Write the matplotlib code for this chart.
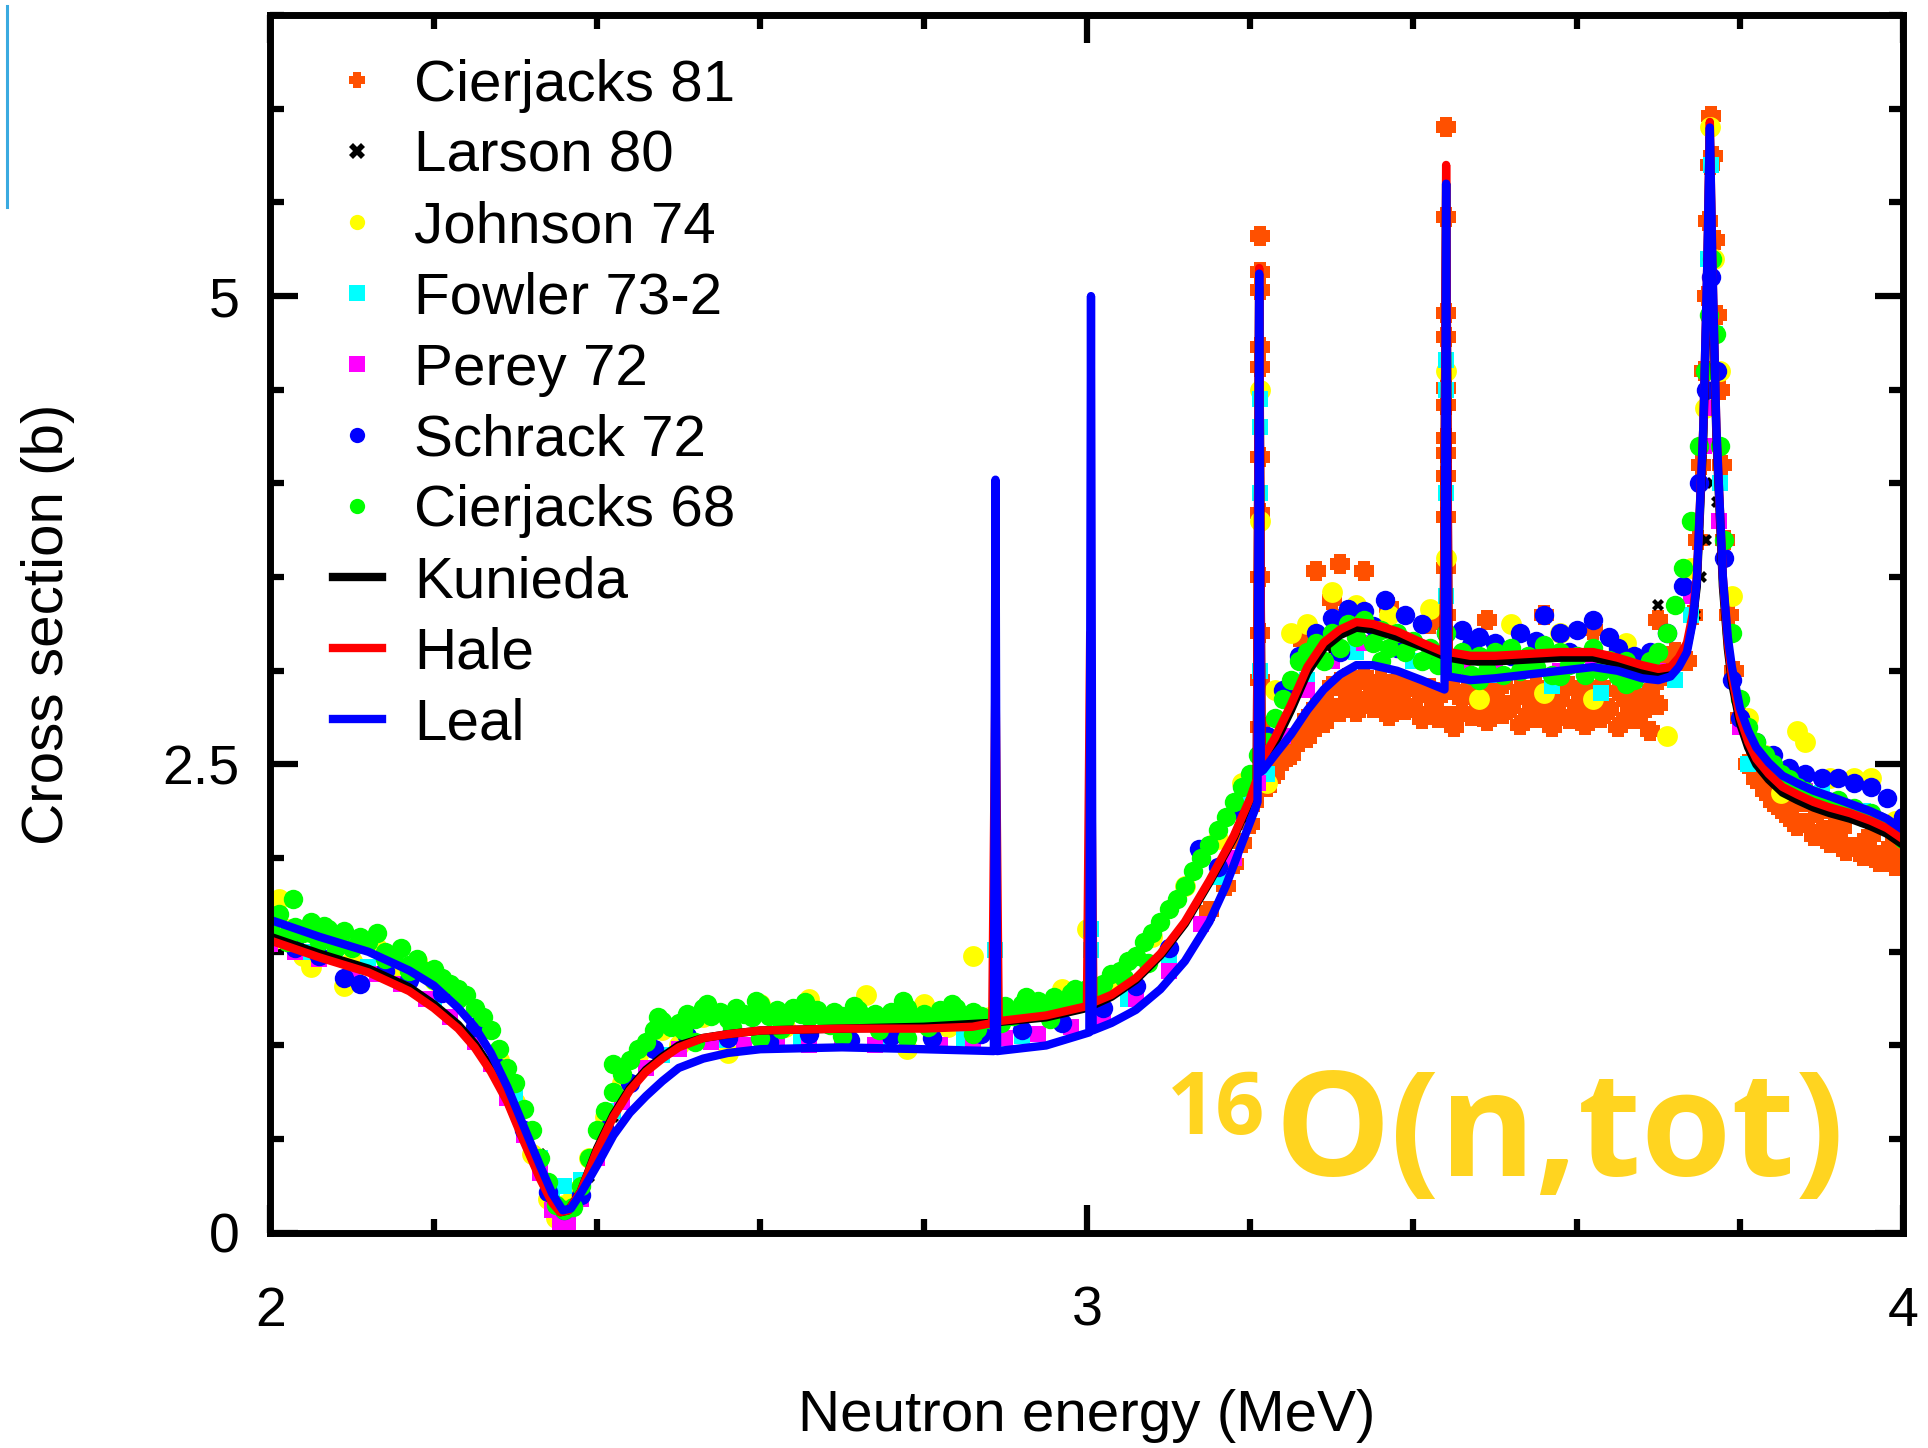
import matplotlib
matplotlib.use("Agg")
import matplotlib.pyplot as plt
from matplotlib.lines import Line2D
from matplotlib.ticker import MultipleLocator

# ---- evaluated curves (energy in MeV, cross section in b) ----
hale_e = [2.00, 2.06, 2.12, 2.17, 2.20, 2.23, 2.25, 2.27, 2.29, 2.31, 2.33, 2.345, 2.355,
          2.365, 2.38, 2.40, 2.42, 2.44, 2.46, 2.48, 2.50, 2.53, 2.56, 2.60, 2.70, 2.80,
          2.86, 2.884, 2.888, 2.892, 2.95, 3.00, 3.004, 3.008, 3.03, 3.06, 3.09, 3.12,
          3.15, 3.18, 3.20, 3.208, 3.211, 3.214, 3.23, 3.25, 3.27, 3.29, 3.31, 3.33,
          3.35, 3.38, 3.41, 3.437, 3.440, 3.443, 3.47, 3.50, 3.54, 3.58, 3.62, 3.65,
          3.68, 3.70, 3.715, 3.725, 3.735, 3.742, 3.747, 3.755, 3.760, 3.763, 3.766,
          3.771, 3.779, 3.785, 3.79, 3.80, 3.81, 3.82, 3.835, 3.852, 3.87, 3.89, 3.91,
          3.935, 3.96, 3.98, 4.00]
hale_xs = [1.56, 1.47, 1.39, 1.29, 1.20, 1.09, 0.99, 0.86, 0.70, 0.49, 0.29, 0.16, 0.11,
           0.12, 0.22, 0.44, 0.62, 0.76, 0.86, 0.93, 0.99, 1.04, 1.06, 1.08, 1.09, 1.09,
           1.10, 1.12, 3.00, 1.13, 1.16, 1.21, 3.20, 1.23, 1.27, 1.36, 1.49, 1.66,
           1.88, 2.12, 2.32, 2.42, 5.15, 2.52, 2.64, 2.82, 3.02, 3.15, 3.22, 3.26,
           3.25, 3.21, 3.15, 3.10, 5.70, 3.10, 3.08, 3.08, 3.09, 3.10, 3.10, 3.07,
           3.03, 3.01, 3.02, 3.07, 3.15, 3.30, 3.50, 4.30, 5.20, 5.93, 5.20,
           4.30, 3.50, 3.15, 2.97, 2.75, 2.62, 2.53, 2.45, 2.38, 2.34, 2.30, 2.27,
           2.24, 2.20, 2.16, 2.10]

kunieda_e = [2.00, 2.06, 2.12, 2.17, 2.20, 2.23, 2.25, 2.27, 2.29, 2.31, 2.33, 2.345, 2.355,
             2.365, 2.38, 2.40, 2.42, 2.44, 2.46, 2.48, 2.50, 2.53, 2.56, 2.60, 2.70, 2.80,
             2.88, 2.95, 3.00, 3.03, 3.06, 3.09, 3.12, 3.15, 3.18, 3.20, 3.208, 3.211,
             3.214, 3.23, 3.25, 3.27, 3.29, 3.31, 3.33, 3.35, 3.38, 3.41, 3.437, 3.440,
             3.443, 3.47, 3.50, 3.54, 3.58, 3.62, 3.65, 3.68, 3.70, 3.715, 3.725, 3.735,
             3.742, 3.747, 3.755, 3.760, 3.763, 3.766, 3.771, 3.779, 3.785, 3.79, 3.80,
             3.81, 3.82, 3.835, 3.852, 3.87, 3.89, 3.91, 3.935, 3.96, 3.98, 4.00]
kunieda_xs = [1.58, 1.49, 1.41, 1.31, 1.22, 1.11, 1.01, 0.88, 0.71, 0.50, 0.30, 0.17, 0.11,
              0.12, 0.22, 0.45, 0.63, 0.77, 0.87, 0.94, 1.00, 1.04, 1.06, 1.08, 1.09, 1.10,
              1.12, 1.15, 1.20, 1.26, 1.35, 1.48, 1.65, 1.87, 2.11, 2.31, 2.41, 5.05,
              2.50, 2.61, 2.79, 2.99, 3.12, 3.19, 3.23, 3.22, 3.18, 3.13, 3.08, 5.60,
              3.07, 3.05, 3.05, 3.06, 3.07, 3.07, 3.04, 3.00, 2.98, 2.99, 3.04, 3.12,
              3.27, 3.45, 4.25, 5.10, 5.85, 5.10, 4.25, 3.45, 3.12, 2.94, 2.72,
              2.59, 2.50, 2.42, 2.35, 2.31, 2.27, 2.24, 2.21, 2.17, 2.13, 2.07]

leal_e = [2.00, 2.06, 2.12, 2.17, 2.20, 2.23, 2.25, 2.27, 2.29, 2.31, 2.33, 2.345, 2.358,
          2.368, 2.38, 2.40, 2.42, 2.44, 2.46, 2.48, 2.50, 2.53, 2.56, 2.60, 2.70, 2.80,
          2.886, 2.888, 2.890, 2.95, 3.003, 3.005, 3.007, 3.03, 3.06, 3.09, 3.12, 3.15,
          3.17, 3.19, 3.205, 3.209, 3.211, 3.213, 3.216, 3.23, 3.25, 3.27, 3.29, 3.31,
          3.33, 3.35, 3.38, 3.41, 3.438, 3.440, 3.442, 3.47, 3.50, 3.54, 3.58, 3.62,
          3.65, 3.68, 3.70, 3.715, 3.725, 3.735, 3.742, 3.747, 3.755, 3.760, 3.763,
          3.766, 3.771, 3.779, 3.785, 3.79, 3.80, 3.81, 3.82, 3.835, 3.852, 3.87, 3.89,
          3.91, 3.935, 3.96, 3.98, 4.00]
leal_xs = [1.67, 1.58, 1.50, 1.40, 1.32, 1.20, 1.10, 0.96, 0.78, 0.57, 0.36, 0.21, 0.12,
           0.13, 0.21, 0.36, 0.52, 0.64, 0.73, 0.81, 0.88, 0.93, 0.96, 0.98, 0.99, 0.98,
           0.97, 4.02, 0.97, 1.00, 1.07, 5.00, 1.08, 1.12, 1.19, 1.30, 1.45, 1.66,
           1.85, 2.08, 2.25, 2.30, 5.12, 2.46, 2.47, 2.55, 2.66, 2.79, 2.90, 2.98,
           3.03, 3.03, 3.00, 2.95, 2.90, 5.60, 2.97, 2.95, 2.96, 2.98, 3.00, 3.02,
           3.00, 2.96, 2.95, 2.97, 3.02, 3.10, 3.26, 3.48, 4.30, 5.20, 5.90,
           5.20, 4.30, 3.50, 3.18, 3.02, 2.80, 2.68, 2.59, 2.51, 2.44, 2.40, 2.36,
           2.33, 2.29, 2.25, 2.21, 2.15]

# ---- measurements ----
cj81_e = [3.15, 3.17, 3.18, 3.19, 3.20, 3.205,
          3.212, 3.212, 3.212, 3.212, 3.212, 3.212, 3.212, 3.212, 3.212, 3.212, 3.212,
          3.22, 3.23, 3.24, 3.25, 3.26, 3.27, 3.28, 3.29, 3.30, 3.31, 3.32, 3.33, 3.34,
          3.35, 3.36, 3.37, 3.38, 3.39, 3.40, 3.41, 3.42, 3.43, 3.45, 3.46, 3.47, 3.48,
          3.49, 3.50, 3.51, 3.52, 3.53, 3.54, 3.55, 3.56, 3.57, 3.58, 3.59, 3.60, 3.61,
          3.62, 3.63, 3.64, 3.65, 3.66, 3.67, 3.68, 3.69, 3.70, 3.71, 3.72,
          3.25, 3.27, 3.29, 3.31, 3.33, 3.35, 3.37, 3.39, 3.41, 3.43, 3.45, 3.47, 3.49,
          3.51, 3.53, 3.55, 3.57, 3.59, 3.61, 3.63, 3.65, 3.67, 3.69,
          3.26, 3.28, 3.30, 3.32, 3.34, 3.36, 3.38, 3.40, 3.42, 3.44, 3.46, 3.48, 3.50,
          3.52, 3.54, 3.56, 3.58, 3.60, 3.62, 3.64, 3.66, 3.68, 3.70,
          3.28, 3.31, 3.34, 3.30, 3.32, 3.37, 3.49, 3.56, 3.62, 3.70, 3.42, 3.26,
          3.44, 3.44, 3.44, 3.44, 3.44, 3.44, 3.44, 3.44, 3.44, 3.44, 3.44, 3.44,
          3.735, 3.742, 3.748, 3.752, 3.756, 3.759, 3.761, 3.763, 3.765, 3.767, 3.769,
          3.772, 3.775, 3.778, 3.782, 3.787, 3.792,
          3.80, 3.81, 3.82, 3.83, 3.84, 3.85, 3.86, 3.87, 3.88, 3.89, 3.90, 3.91, 3.92,
          3.93, 3.94, 3.95, 3.96, 3.97, 3.98, 3.99, 4.00, 3.82, 3.85, 3.88, 3.92, 3.96,
          3.835, 3.865, 3.895, 3.925, 3.955, 3.985]
cj81_xs = [1.72, 1.85, 1.97, 2.08, 2.18, 2.30,
           5.32, 5.13, 5.03, 4.73, 4.62, 4.14, 3.84, 3.50, 3.20, 2.95, 2.70,
           2.38, 2.45, 2.52, 2.60, 2.66, 2.74, 2.80, 2.84, 2.92, 2.94, 2.96, 2.93, 2.97,
           2.92, 2.95, 2.90, 2.94, 2.89, 2.92, 2.88, 2.91, 2.86, 2.90, 2.85, 2.92, 2.84,
           2.90, 2.86, 2.93, 2.82, 2.90, 2.85, 2.92, 2.81, 2.90, 2.84, 2.92, 2.82, 2.90,
           2.85, 2.92, 2.80, 2.89, 2.84, 2.90, 2.80, 2.88, 2.95, 3.02, 3.10,
           2.55, 2.64, 2.72, 2.78, 2.78, 2.80, 2.76, 2.79, 2.74, 2.75, 2.70, 2.76, 2.73,
           2.77, 2.71, 2.75, 2.70, 2.74, 2.71, 2.75, 2.70, 2.74, 2.68,
           2.62, 2.70, 2.80, 2.86, 2.84, 2.86, 2.82, 2.80, 2.78, 2.76, 2.78, 2.80, 2.79,
           2.80, 2.77, 2.79, 2.76, 2.80, 2.77, 2.79, 2.75, 2.78, 2.82,
           3.53, 3.57, 3.53, 3.38, 3.30, 3.34, 3.27, 3.30, 3.22, 3.27, 3.25, 3.18,
           5.90, 5.42, 4.91, 4.78, 4.51, 4.42, 4.24, 4.16, 4.04, 3.82, 3.55, 3.30,
           3.05, 3.30, 3.70, 4.10, 4.60, 5.00, 5.40, 5.70, 5.96, 5.75, 5.30,
           4.90, 4.50, 4.10, 3.70, 3.30, 3.00,
           2.75, 2.50, 2.42, 2.36, 2.30, 2.26, 2.22, 2.17, 2.19, 2.12, 2.15, 2.08, 2.10,
           2.04, 2.06, 2.01, 2.04, 1.98, 2.00, 1.96, 2.00, 2.56, 2.42, 2.30, 2.20, 2.12,
           2.40, 2.30, 2.24, 2.16, 2.10, 2.06]

larson_e = [2.00, 2.285, 2.33, 2.39, 2.42, 3.19, 3.20, 3.30, 3.35, 3.45, 3.70, 3.745,
            3.752, 3.758, 3.766, 3.772, 3.78]
larson_xs = [1.58, 0.78, 0.42, 0.30, 0.62, 2.22, 2.30, 3.10, 3.20, 3.05, 3.35, 3.30,
             3.50, 3.70, 4.00, 3.90, 3.60]

johnson_e = [2.00, 2.01, 2.02, 2.04, 2.05, 2.07, 2.09, 2.10, 2.13, 2.15, 2.18, 2.20, 2.22,
             2.26, 2.28, 2.30, 2.32, 2.34, 2.35, 2.356, 2.36, 2.37, 2.39, 2.41, 2.43,
             2.45, 2.48, 2.50, 2.53, 2.56, 2.60, 2.63, 2.66, 2.70, 2.73, 2.76, 2.78,
             2.80, 2.83, 2.86, 2.88, 2.93, 2.97, 3.00, 3.03, 3.08, 3.12, 3.16, 3.19,
             3.212, 3.212, 3.22, 3.23, 3.25, 3.27, 3.30, 3.33, 3.37, 3.42, 3.44, 3.44,
             3.46, 3.48, 3.52, 3.56, 3.58, 3.62, 3.66, 3.71, 3.74, 3.757, 3.763, 3.768,
             3.775, 3.79, 3.81, 3.83, 3.85, 3.87, 3.88, 3.91, 3.94, 3.96, 3.99]
johnson_xs = [1.55, 1.78, 1.62, 1.48, 1.42, 1.58, 1.32, 1.45, 1.52, 1.42, 1.45, 1.35, 1.30,
              1.10, 0.92, 0.70, 0.42, 0.18, 0.08, 0.00, 0.15, 0.22, 0.40, 0.62, 0.80,
              0.95, 1.08, 1.00, 1.15, 0.96, 1.22, 1.10, 1.25, 1.12, 1.27, 1.15, 0.98,
              1.22, 1.10, 1.48, 1.15, 1.20, 1.30, 1.62, 1.35, 1.58, 1.85, 2.10, 2.40,
              3.80, 4.50, 2.40, 2.90, 3.20, 3.25, 3.42, 3.35, 3.30, 3.33, 4.60, 3.60,
              3.00, 2.85, 3.25, 2.88, 3.20, 2.85, 3.15, 2.65, 3.55, 4.40, 5.90, 5.20,
              4.60, 3.40, 2.75, 2.55, 2.35, 2.68, 2.62, 2.43, 2.43, 2.43, 2.20]

fowler_e = [2.00, 2.05, 2.12, 2.20, 2.26, 2.30, 2.33, 2.345, 2.36, 2.38, 2.42, 2.48, 2.55,
            2.65, 2.75, 2.85, 2.888, 2.92, 3.005, 3.005, 3.05, 3.10, 3.16, 3.20, 3.212,
            3.212, 3.212, 3.212, 3.22, 3.27, 3.33, 3.40, 3.44, 3.44, 3.44, 3.44, 3.50,
            3.57, 3.63, 3.67, 3.72, 3.74, 3.756, 3.761, 3.764, 3.769, 3.776, 3.80, 3.81,
            3.86, 3.90, 3.95, 4.00]
fowler_xs = [1.60, 1.50, 1.42, 1.25, 1.08, 0.72, 0.40, 0.22, 0.25, 0.28, 0.65, 0.95, 1.03,
             1.04, 1.02, 1.04, 1.51, 1.05, 1.51, 1.62, 1.25, 1.45, 1.90, 2.30, 3.00,
             3.95, 4.30, 4.45, 2.45, 2.95, 3.10, 3.05, 3.40, 3.95, 4.50, 4.66, 2.98,
             2.92, 2.88, 2.95, 2.95, 3.30, 4.20, 5.20, 5.70, 4.80, 4.00, 2.70, 2.50,
             2.42, 2.35, 2.25, 2.15]

perey_e = [2.00, 2.03, 2.06, 2.10, 2.13, 2.16, 2.19, 2.22, 2.25, 2.27, 2.29, 2.31, 2.33,
           2.345, 2.355, 2.365, 2.38, 2.40, 2.43, 2.46, 2.50, 2.54, 2.58, 2.62, 2.66,
           2.70, 2.74, 2.78, 2.82, 2.86, 2.90, 2.94, 2.98, 3.02, 3.06, 3.10, 3.14, 3.18,
           3.21, 3.24, 3.27, 3.30, 3.34, 3.38, 3.42, 3.46, 3.50, 3.54, 3.58, 3.62, 3.66,
           3.70, 3.74, 3.756, 3.765, 3.774, 3.80, 3.84, 3.88, 3.92, 3.96, 4.00]
perey_xs = [1.54, 1.50, 1.46, 1.40, 1.38, 1.33, 1.25, 1.15, 1.02, 0.90, 0.72, 0.52, 0.32,
            0.12, 0.05, 0.06, 0.18, 0.40, 0.70, 0.88, 0.98, 1.02, 1.00, 1.02, 1.00,
            1.03, 1.00, 1.02, 1.00, 1.03, 1.04, 1.06, 1.10, 1.15, 1.25, 1.40, 1.65, 2.00,
            2.40, 2.65, 2.90, 3.05, 3.15, 3.12, 3.05, 3.00, 3.02, 3.05, 3.00, 3.04, 2.98,
            3.00, 3.40, 4.20, 4.40, 3.80, 2.70, 2.45, 2.36, 2.28, 2.22, 2.12]

schrack_e = [2.00, 2.03, 2.06, 2.09, 2.11, 2.14, 2.17, 2.21, 2.25, 2.28, 2.31, 2.34, 2.36,
             2.38, 2.41, 2.44, 2.47, 2.51, 2.56, 2.61, 2.66, 2.71, 2.76, 2.81, 2.84,
             2.87, 2.92, 2.97, 3.02, 3.06, 3.10, 3.137, 3.16, 3.19, 3.22, 3.24, 3.26,
             3.28, 3.30, 3.32, 3.34, 3.365, 3.39, 3.41, 3.44, 3.46, 3.48, 3.50, 3.53,
             3.56, 3.58, 3.60, 3.62, 3.65, 3.67, 3.69, 3.71, 3.73, 3.75, 3.758, 3.765,
             3.772, 3.78, 3.79, 3.80, 3.82, 3.84, 3.86, 3.88, 3.90, 3.92, 3.94, 3.96,
             3.98, 4.00, 3.31, 3.35, 3.38, 3.43, 3.47, 3.52, 3.55, 3.59, 3.64]
schrack_xs = [1.60, 1.52, 1.48, 1.36, 1.33, 1.40, 1.35, 1.28, 1.10, 0.88, 0.55, 0.22, 0.12,
              0.20, 0.55, 0.80, 0.98, 1.05, 1.04, 1.02, 1.06, 1.03, 1.05, 1.04, 1.18,
              1.06, 1.08, 1.12, 1.20, 1.32, 1.52, 2.05, 1.95, 2.25, 2.65, 2.90, 3.08,
              3.20, 3.28, 3.33, 3.32, 3.38, 3.30, 3.25, 3.20, 3.22, 3.18, 3.15, 3.20,
              3.30, 3.20, 3.22, 3.27, 3.12, 3.08, 3.10, 3.20, 3.45, 4.00, 4.50, 5.10,
              4.60, 3.60, 2.95, 2.75, 2.62, 2.55, 2.48, 2.45, 2.43, 2.43, 2.40, 2.38,
              2.32, 2.22, 3.10, 3.24, 3.12, 3.06, 3.14, 3.08, 3.16, 3.10, 3.18]

cj68_e = [2.00, 2.01, 2.015, 2.027, 2.03, 2.04, 2.05, 2.06, 2.065, 2.07, 2.08, 2.09, 2.10,
          2.11, 2.12, 2.13, 2.14, 2.15, 2.16, 2.17, 2.18, 2.19, 2.20, 2.21, 2.22, 2.23,
          2.24, 2.25, 2.26, 2.27, 2.28, 2.29, 2.30, 2.31, 2.32, 2.33, 2.34, 2.35, 2.36,
          2.37, 2.38, 2.39, 2.40, 2.41, 2.42, 2.43, 2.44, 2.45, 2.46, 2.47, 2.475, 2.48,
          2.49, 2.50, 2.51, 2.52, 2.53, 2.54, 2.55, 2.56, 2.57, 2.58, 2.59, 2.60, 2.61,
          2.62, 2.63, 2.64, 2.65, 2.66, 2.67, 2.68, 2.69, 2.70, 2.71, 2.72, 2.73, 2.74,
          2.75, 2.76, 2.77, 2.78, 2.79, 2.80, 2.81, 2.82, 2.83, 2.84, 2.85, 2.86, 2.87,
          2.88, 2.89, 2.90, 2.91, 2.92, 2.93, 2.94, 2.95, 2.96, 2.97, 2.98, 2.99, 3.00,
          3.01, 3.02, 3.03, 3.04, 3.05, 3.06, 3.07, 3.08, 3.09, 3.10, 3.11, 3.12, 3.13,
          3.14, 3.15, 3.16, 3.17, 3.18, 3.19, 3.20, 3.21, 3.22, 3.23, 3.24, 3.25, 3.26,
          3.27, 3.28, 3.29, 3.30, 3.31, 3.32, 3.33, 3.34, 3.35, 3.36, 3.37, 3.38, 3.39,
          3.40, 3.41, 3.42, 3.43, 3.44, 3.45, 3.46, 3.47, 3.48, 3.49, 3.50, 3.51, 3.52,
          3.53, 3.54, 3.55, 3.56, 3.57, 3.58, 3.59, 3.60, 3.61, 3.62, 3.63, 3.64, 3.65,
          3.66, 3.67, 3.68, 3.69, 3.70, 3.71, 3.72, 3.73, 3.74, 3.75, 3.757, 3.762,
          3.766, 3.770, 3.775, 3.78, 3.79, 3.80, 3.81, 3.82, 3.83, 3.84, 3.85, 3.86,
          3.87, 3.88, 3.89, 3.90, 3.91, 3.92, 3.93, 3.94, 3.95, 3.96, 3.97, 3.98, 3.99,
          4.00, 2.42, 2.52, 2.60, 2.70, 2.78, 2.86, 3.36, 3.48, 3.58, 3.66,
          2.505, 2.535, 2.565, 2.595, 2.625, 2.655, 2.685, 2.715, 2.745, 2.775, 2.805,
          2.835, 2.865, 2.895, 2.925, 2.955, 2.985, 3.015, 3.045, 3.075,
          2.02, 2.05, 2.08, 2.11, 2.14, 2.17, 2.20, 2.23]
cj68_xs = [1.62, 1.70, 1.58, 1.78, 1.63, 1.60, 1.66, 1.55, 1.64, 1.62, 1.58, 1.61, 1.52,
           1.58, 1.55, 1.60, 1.50, 1.47, 1.52, 1.43, 1.46, 1.40, 1.41, 1.36, 1.33, 1.30,
           1.27, 1.20, 1.15, 1.08, 0.98, 0.88, 0.80, 0.66, 0.55, 0.40, 0.27, 0.15, 0.12,
           0.14, 0.25, 0.40, 0.55, 0.65, 0.75, 0.85, 0.92, 0.98, 1.02, 1.08, 1.15, 1.13,
           1.10, 1.12, 1.17, 1.14, 1.20, 1.16, 1.18, 1.14, 1.20, 1.17, 1.15, 1.22, 1.16,
           1.19, 1.14, 1.20, 1.17, 1.15, 1.19, 1.13, 1.18, 1.16, 1.14, 1.19, 1.15, 1.17,
           1.13, 1.18, 1.15, 1.20, 1.14, 1.17, 1.12, 1.19, 1.15, 1.20, 1.13, 1.18, 1.16,
           1.14, 1.18, 1.21, 1.16, 1.22, 1.18, 1.24, 1.20, 1.26, 1.22, 1.28, 1.25, 1.30,
           1.32, 1.33, 1.38, 1.40, 1.45, 1.48, 1.55, 1.60, 1.66, 1.73, 1.78, 1.85, 1.93,
           2.00, 2.07, 2.15, 2.22, 2.30, 2.38, 2.45, 2.55, 2.62, 2.75, 2.85, 2.95, 3.05,
           3.10, 3.15, 3.05, 3.20, 3.12, 3.25, 3.18, 3.27, 3.15, 3.22, 3.12, 3.20, 3.10,
           3.16, 3.05, 3.12, 3.03, 3.20, 3.02, 3.10, 2.98, 3.08, 3.00, 3.10, 2.98, 3.12,
           3.00, 3.08, 3.02, 3.14, 2.98, 3.10, 3.03, 3.08, 2.98, 3.12, 3.00, 3.06, 2.97,
           3.05, 2.95, 3.00, 3.05, 3.10, 3.20, 3.35, 3.55, 3.80, 4.20, 4.60, 4.90,
           5.20, 4.80, 4.20, 3.70, 3.20, 2.85, 2.70, 2.62, 2.55, 2.50, 2.45, 2.42,
           2.38, 2.36, 2.33, 2.30, 2.28, 2.31, 2.25, 2.27, 2.22, 2.24, 2.20, 2.17, 2.14,
           2.10, 0.90, 1.02, 1.04, 1.05, 1.04, 1.06, 3.05, 2.95, 2.97, 2.93,
           1.08, 1.22, 1.10, 1.24, 1.09, 1.23, 1.11, 1.21, 1.08, 1.24, 1.10, 1.22,
           1.09, 1.12, 1.26, 1.14, 1.30, 1.28, 1.36, 1.44,
           1.55, 1.60, 1.52, 1.55, 1.46, 1.40, 1.35, 1.25]

x_ticks = [2, 3, 4]
y_ticks = [0, 2.5, 5]

# fat plus marker used for Cierjacks 81
fat_plus = [(-0.27, 0.5), (0.27, 0.5), (0.27, 0.27), (0.5, 0.27), (0.5, -0.27),
            (0.27, -0.27), (0.27, -0.5), (-0.27, -0.5), (-0.27, -0.27), (-0.5, -0.27),
            (-0.5, 0.27), (-0.27, 0.27)]

point_sets = [
    ("Cierjacks 81", cj81_e, cj81_xs, fat_plus, "#ff5000", 15),
    ("Larson 80", larson_e, larson_xs, "X", "black", 8),
    ("Johnson 74", johnson_e, johnson_xs, "o", "#ffff00", 15),
    ("Fowler 73-2", fowler_e, fowler_xs, "s", "#00ffff", 12),
    ("Perey 72", perey_e, perey_xs, "s", "#ff00ff", 12),
    ("Schrack 72", schrack_e, schrack_xs, "o", "#0000ff", 14),
    ("Cierjacks 68", cj68_e, cj68_xs, "o", "#00ff00", 14),
]
curve_sets = [
    ("Kunieda", kunieda_e, kunieda_xs, "black"),
    ("Hale", hale_e, hale_xs, "red"),
    ("Leal", leal_e, leal_xs, "#0000ff"),
]

plt.rcParams["font.family"] = ["Liberation Sans", "DejaVu Sans"]

fig = plt.figure(figsize=(19.28, 14.48), dpi=100)
ax = fig.add_axes([0.1403, 0.1486, 0.8469, 0.8410])

for label, e, xs, marker, color, size in point_sets:
    ax.plot(e, xs, linestyle="none", marker=marker, markersize=size, color=color,
            markeredgewidth=0, label=label)
for label, e, xs, color in curve_sets:
    ax.plot(e, xs, color=color, linewidth=6, label=label)

ax.set_xlim(2, 4)
ax.set_ylim(0, 6.5)
ax.set_xticks(x_ticks)
ax.set_xticklabels([str(t) for t in x_ticks])
ax.set_yticks(y_ticks)
ax.set_yticklabels(["0", "2.5", "5"])
ax.xaxis.set_minor_locator(MultipleLocator(0.2))
ax.yaxis.set_minor_locator(MultipleLocator(0.5))
ax.tick_params(which="both", direction="in", top=True, right=True, width=4.5,
               labelsize=40)
ax.tick_params(which="major", length=20)
ax.tick_params(which="minor", length=10)
ax.tick_params(axis="x", pad=38)
ax.tick_params(axis="y", pad=22)
for sp in ax.spines.values():
    sp.set_linewidth(5)

ax.set_xlabel("Neutron energy (MeV)", fontsize=42, labelpad=37)
ax.set_ylabel("Cross section (b)", fontsize=42, labelpad=63)

leg = ax.legend(loc="upper left", bbox_to_anchor=(0.038, 0.964), frameon=False,
                fontsize=42, handlelength=0.85, handletextpad=0.55, labelspacing=0.29,
                borderpad=0, borderaxespad=0)
for h in leg.legend_handles:
    h.set_markersize(11)

# reaction label
title_kw = dict(transform=ax.transAxes, color="#ffd420", fontweight="bold",
                family=["Open Sans", "DejaVu Sans"])
ax.text(0.615, 0.047, "O(n,tot)", fontsize=105, ha="left", va="baseline", **title_kw)
ax.text(0.609, 0.081, "16", fontsize=62, ha="right", va="baseline", **title_kw)

# stray slide marker at the top-left edge
fig.add_artist(Line2D([7 / 1928, 7 / 1928], [1 - 6 / 1448, 1 - 207 / 1448],
                      transform=fig.transFigure, color="#3aaae0", linewidth=2.2))

fig.savefig("out.png", dpi=100)
